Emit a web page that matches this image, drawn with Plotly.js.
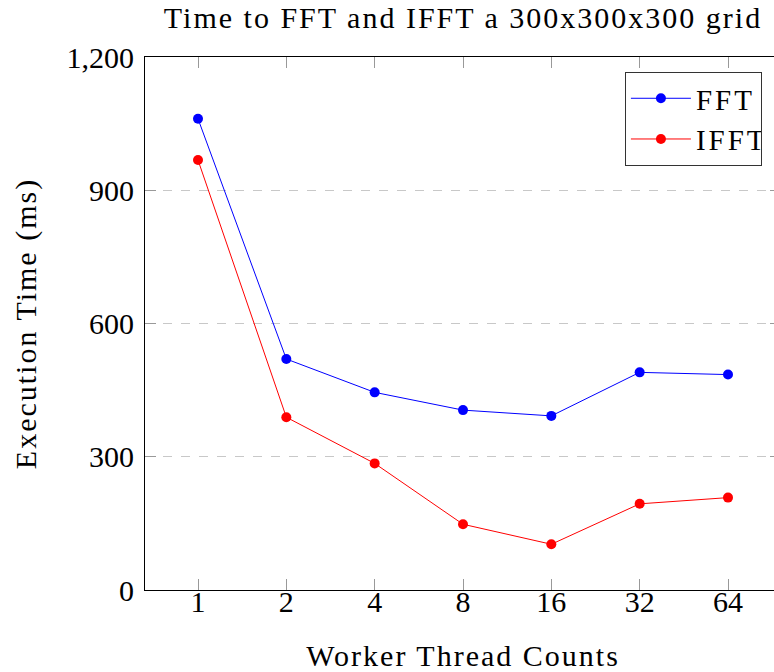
<!DOCTYPE html>
<html>
<head>
<meta charset="utf-8">
<script src="https://cdn.plot.ly/plotly-3.0.1.min.js"></script>
<style>
html, body { margin: 0; padding: 0; overflow: hidden; background: #fff; }
#chart { width: 800px; height: 672px; }
#chart .gtitle, #chart .xtitle, #chart .ytitle { letter-spacing: 2px; }
#chart .legendtext { letter-spacing: 3px; }
#chart g.xtick { transform: translateY(-15px); }
</style>
</head>
<body>
<div id="chart"></div>
<script>
const threadCounts = ["1", "2", "4", "8", "16", "32", "64"];
const fftTimes  = [1061, 520, 445, 405, 392, 490, 485];
const ifftTimes = [968, 389, 285, 148, 103, 194, 208];
const yTickVals = [0, 300, 600, 900, 1200];
const yTickText = ["0", "300", "600", "900", "1,200"];

const FONT = "Liberation Serif, Times New Roman, serif";

const traces = [
  {
    x: threadCounts, y: fftTimes, name: "FFT", type: "scatter", mode: "lines+markers",
    line: { color: "#0000ff", width: 1 },
    marker: { color: "#0000ff", size: 10 }
  },
  {
    x: threadCounts, y: ifftTimes, name: "IFFT", type: "scatter", mode: "lines+markers",
    line: { color: "#ff0000", width: 1 },
    marker: { color: "#ff0000", size: 10 }
  }
];

const layout = {
  width: 800, height: 672,
  margin: { l: 145, r: 19, t: 57, b: 82 },
  paper_bgcolor: "#fff", plot_bgcolor: "#fff",
  font: { family: FONT, size: 30, color: "#000" },
  title: {
    text: "Time to FFT and IFFT a 300x300x300 grid",
    font: { family: FONT, size: 30, color: "#000" },
    x: 0.5, xref: "paper", y: 1 - 17 / 672, yref: "container", yanchor: "middle"
  },
  xaxis: {
    type: "category",
    range: [-0.6, 6.6],
    showline: true, linecolor: "#000", linewidth: 1, mirror: "ticks",
    ticks: "inside", ticklen: 11, tickcolor: "#999", tickwidth: 1,
    showgrid: false, zeroline: false,
    tickfont: { family: FONT, size: 30 },
    title: { text: "Worker Thread Counts", font: { family: FONT, size: 30 }, standoff: 15 }
  },
  yaxis: {
    range: [0, 1200],
    tickvals: yTickVals, ticktext: yTickText,
    showline: true, linecolor: "#000", linewidth: 1, mirror: "ticks",
    ticks: "inside", ticklen: 11, tickcolor: "#999", tickwidth: 1,
    showgrid: true, gridcolor: "#c8c8c8", griddash: "dash", gridwidth: 1,
    zeroline: false,
    tickfont: { family: FONT, size: 30 },
    ticklabelstandoff: 4,
    title: { text: "Execution Time (ms)", font: { family: FONT, size: 30 }, standoff: 21 }
  },
  legend: {
    x: 0.970, y: 0.972, xanchor: "right", yanchor: "top",
    bgcolor: "#fff", bordercolor: "#333", borderwidth: 1,
    itemwidth: 60,
    font: { family: FONT, size: 29 }
  },
  showlegend: true
};

Plotly.newPlot("chart", traces, layout, { staticPlot: true, displayModeBar: false });
</script>
</body>
</html>
